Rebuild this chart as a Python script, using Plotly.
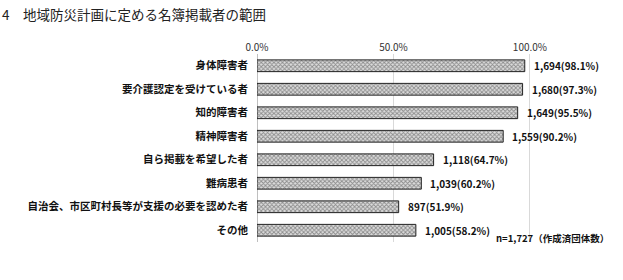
import plotly.graph_objects as go

categories = ["身体障害者", "要介護認定を受けている者", "知的障害者", "精神障害者",
              "自ら掲載を希望した者", "難病患者", "自治会、市区町村長等が支援の必要を認めた者", "その他"]
counts = [1694, 1680, 1649, 1559, 1118, 1039, 897, 1005]
shares = [98.1, 97.3, 95.5, 90.2, 64.7, 60.2, 51.9, 58.2]
tick_vals = [0, 50, 100]
tick_text = ["0.0%", "50.0%", "100.0%"]
title = "4　地域防災計画に定める名簿掲載者の範囲"
note = "n=1,727（作成済団体数）"

labels = [f"<b>{c:,}({s}%)</b>" for c, s in zip(counts, shares)]
cat_labels = [f"<b>{c}</b>" for c in categories]

font = "Noto Sans CJK JP"

fig = go.Figure(go.Bar(
    x=shares, y=cat_labels, orientation="h",
    marker=dict(color="#bbbbbb",
                line=dict(color="#222222", width=1),
                pattern=dict(shape="x", fgcolor="#3a3a3a", bgcolor="#dddddd", size=3, solidity=0.5)),
    width=0.5,
    hoverinfo="skip",
))

annotations = [
    dict(text=lab, x=s, y=c, xref="x", yref="y", xanchor="left", yanchor="middle",
         xshift=7, showarrow=False, font=dict(size=10, color="#111111", family=font))
    for lab, s, c in zip(labels, shares, cat_labels)
]
annotations += [
    dict(text=title, xref="paper", yref="paper", x=-257/333, y=1 + 40/188,
         xanchor="left", yanchor="middle", showarrow=False,
         font=dict(size=13.5, color="#222222", family=font)),
    dict(text=f"<b>{note}</b>", xref="x", yref="paper", x=87, y=0.02,
         xanchor="left", yanchor="middle", showarrow=False,
         font=dict(size=9.5, color="#111111", family=font)),
]

fig.update_layout(
    width=623, height=280,
    margin=dict(l=257, r=33, t=54, b=38),
    paper_bgcolor="white", plot_bgcolor="white",
    showlegend=False,
    font=dict(family=font, size=10, color="#222222"),
    xaxis=dict(range=[0, 122], side="top", tickvals=tick_vals, ticktext=tick_text,
               showgrid=True, gridcolor="#d9d9d9", gridwidth=1,
               zeroline=True, zerolinecolor="#bfbfbf", zerolinewidth=1,
               tickfont=dict(size=10, color="#333333"), ticks="", showline=False),
    yaxis=dict(autorange="reversed", ticks="", ticklen=0, showline=False,
               tickfont=dict(size=10.5, color="#111111"), ticklabelstandoff=8),
    annotations=annotations,
)

fig.write_html("out.html")
